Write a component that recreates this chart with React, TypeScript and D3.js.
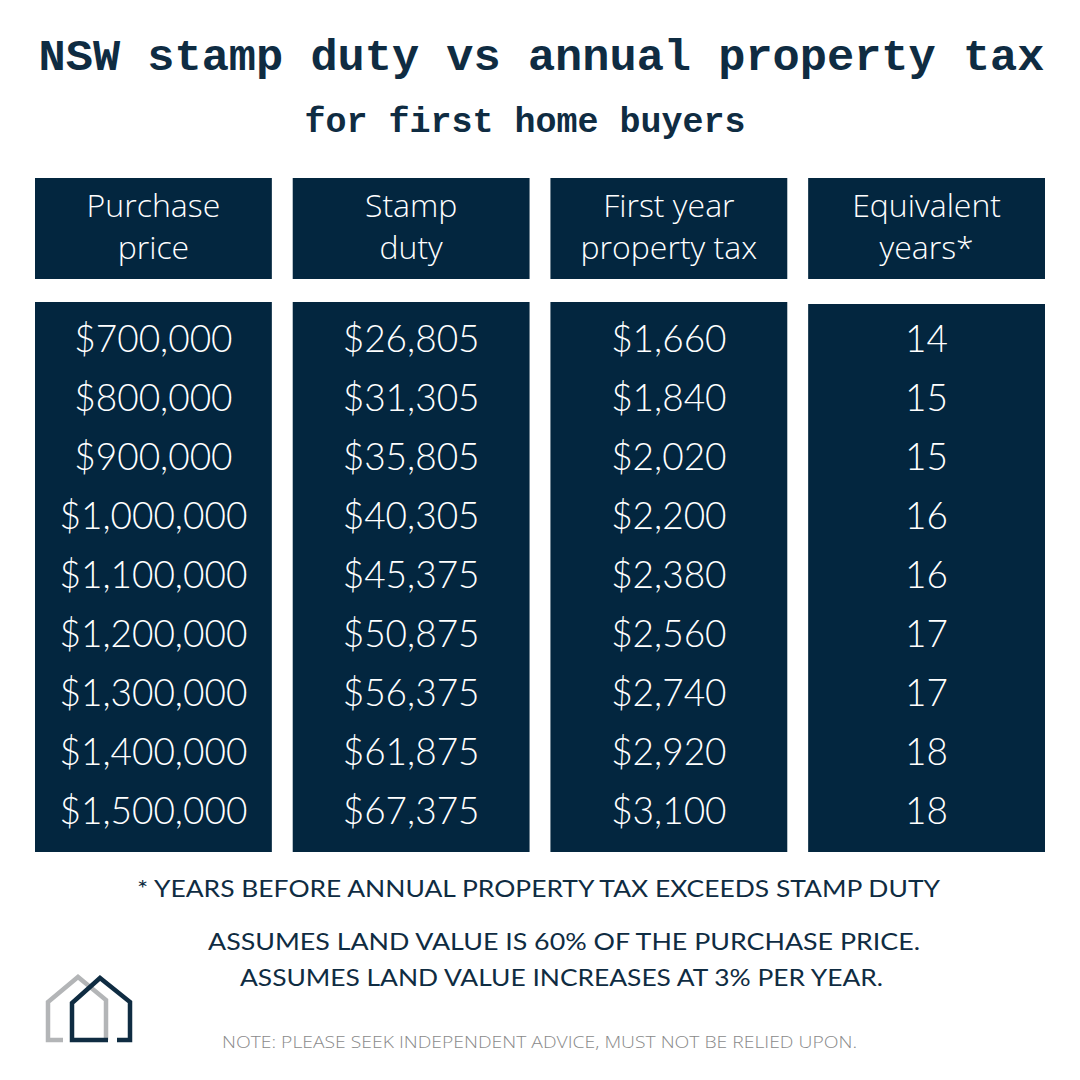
import React from "react";
import * as d3 from "d3";

const title = "NSW stamp duty vs annual property tax";
const subtitle = "for first home buyers";
const columns = ["price", "duty", "tax", "years"];
const headerLines = [
  ["Purchase", "price"],
  ["Stamp", "duty"],
  ["First year", "property tax"],
  ["Equivalent", "years*"],
];
const purchasePrice = [700000, 800000, 900000, 1000000, 1100000, 1200000, 1300000, 1400000, 1500000];
const stampDuty = [26805, 31305, 35805, 40305, 45375, 50875, 56375, 61875, 67375];
const firstYearTax = [1660, 1840, 2020, 2200, 2380, 2560, 2740, 2920, 3100];
const equivalentYears = [14, 15, 15, 16, 16, 17, 17, 18, 18];
const footnote = "* YEARS BEFORE ANNUAL PROPERTY TAX EXCEEDS STAMP DUTY";
const assumptions = [
  "ASSUMES LAND VALUE IS 60% OF THE PURCHASE PRICE.",
  "ASSUMES LAND VALUE INCREASES AT 3% PER YEAR.",
];
const note = "NOTE: PLEASE SEEK INDEPENDENT ADVICE, MUST NOT BE RELIED UPON.";

const NAVY = "#03263f";
const TEXT = "#0f2c42";

export default function App() {
  const W = 1080;
  const H = 1080;
  const x = d3.scaleBand<string>().domain(columns).range([35, 1045]).paddingInner(0.081).paddingOuter(0);
  const rowIdx = d3.range(purchasePrice.length);
  const y = d3.scalePoint<number>().domain(rowIdx).range([337, 809]);
  const money = (v: number) => "$" + d3.format(",")(v);
  const colValues: string[][] = [
    purchasePrice.map(money),
    stampDuty.map(money),
    firstYearTax.map(money),
    equivalentYears.map((v) => String(v)),
  ];
  const assumptionWidths = [712, 643];

  const grayHouse = d3.line()([
    [63, 1040], [48, 1040], [48, 1002], [78, 977], [106, 1000], [106, 1040],
  ] as [number, number][]) as string;
  const darkHouse = d3.line()([
    [108, 1040], [72, 1040], [72, 1003], [100, 978], [130, 1002], [130, 1040], [117, 1040],
  ] as [number, number][]) as string;

  return (
    <svg width={W} height={H} style={{ position: "absolute", left: 0, top: 0, background: "#fff" }}>
      <rect width={W} height={H} fill="#fff" />
      <text x={541.5} y={70} textAnchor="middle" fontFamily="'Liberation Mono', 'DejaVu Sans Mono', monospace" fontWeight="bold" fontSize={45} fill={TEXT} textLength={1006} lengthAdjust="spacingAndGlyphs">
        {title}
      </text>
      <text x={525} y={132} textAnchor="middle" fontFamily="'Liberation Mono', 'DejaVu Sans Mono', monospace" fontWeight="bold" fontSize={35} fill={TEXT}>
        {subtitle}
      </text>
      {columns.map((c, i) => {
        const x0 = x(c)!;
        const bw = x.bandwidth();
        const cx = x0 + bw / 2;
        return (
          <g key={c}>
            <rect x={x0} y={178} width={bw} height={101} fill={NAVY} />
            {headerLines[i].map((t, j) => (
              <text key={j} x={cx} y={217 + j * 42} textAnchor="middle" fontFamily="'Open Sans', sans-serif" fontWeight={300} fontSize={32} fill="#fff">
                {t}
              </text>
            ))}
            <rect x={x0} y={i === 3 ? 304 : 302} width={bw} height={i === 3 ? 548 : 550} fill={NAVY} />
            {rowIdx.map((r) => (
              <text key={r} x={cx} y={y(r)! + 15} textAnchor="middle" fontFamily="Lato, sans-serif" fontWeight={300} fontSize={37} fill="#fff">
                {colValues[i][r]}
              </text>
            ))}
          </g>
        );
      })}
      <text x={538.5} y={897} textAnchor="middle" fontFamily="Lato, sans-serif" fontSize={24} fill={TEXT} textLength={803} lengthAdjust="spacingAndGlyphs">
        {footnote}
      </text>
      {assumptions.map((t, i) => (
        <text key={i} x={i === 0 ? 564 : 561.5} y={950 + i * 36} textAnchor="middle" fontFamily="Lato, sans-serif" fontSize={24} fill={TEXT} textLength={assumptionWidths[i]} lengthAdjust="spacingAndGlyphs">
          {t}
        </text>
      ))}
      <text x={539.5} y={1048} textAnchor="middle" fontFamily="'Open Sans', sans-serif" fontWeight={300} fontSize={17} fill="#8a8a8a" textLength={635} lengthAdjust="spacingAndGlyphs">
        {note}
      </text>
      <path d={grayHouse} fill="none" stroke="#b3b5b7" strokeWidth={4.5} strokeLinejoin="miter" />
      <path d={darkHouse} fill="none" stroke="#0f2c42" strokeWidth={4.5} strokeLinejoin="miter" />
    </svg>
  );
}
